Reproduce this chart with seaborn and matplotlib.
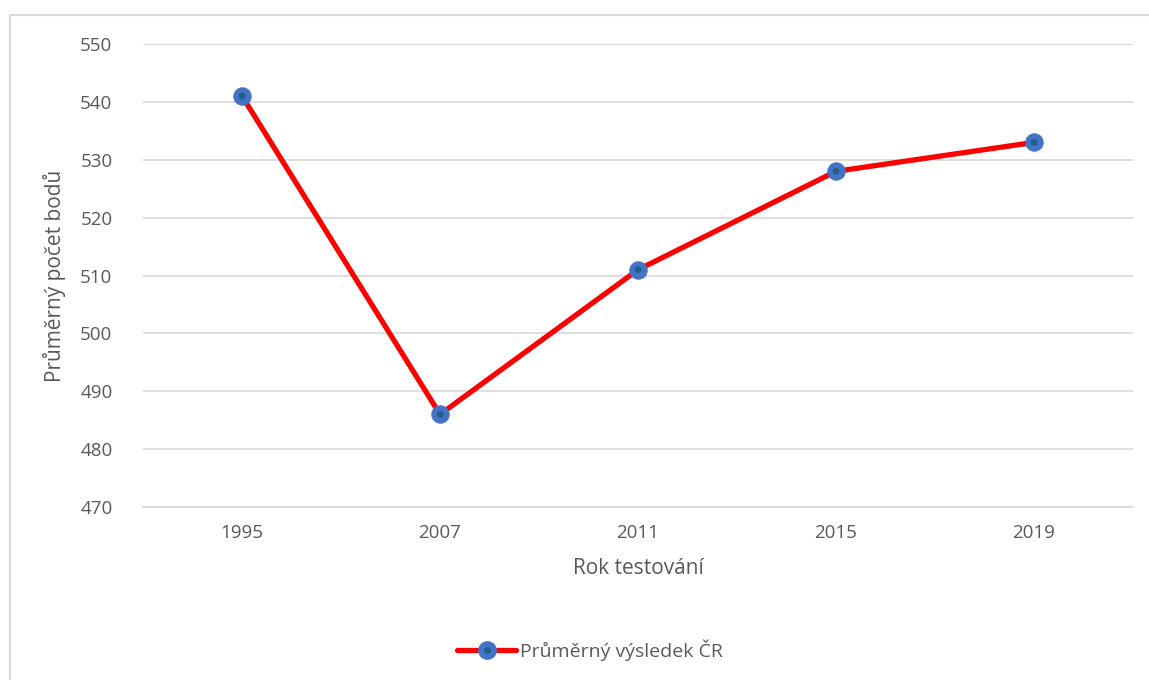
import matplotlib
matplotlib.use("Agg")
import matplotlib.pyplot as plt
from matplotlib.lines import Line2D
import pandas as pd
import seaborn as sns

years = ["1995", "2007", "2011", "2015", "2019"]
scores = [541, 486, 511, 528, 533]
series_name = "Průměrný výsledek ČR"
y_ticks = [470, 480, 490, 500, 510, 520, 530, 540, 550]

df = pd.DataFrame({"rok": years, "body": scores})

sns.set_style("white")
plt.rcParams["font.family"] = ["Open Sans", "DejaVu Sans"]
text_col = "#595959"

fig = plt.figure(figsize=(11.49, 6.8), dpi=100)
ax = fig.add_axes([0.1245, 0.2544, 0.8616, 0.6809])

# outer chart border: only top and left edges are visible in the original
bx, by = 10 / 1149, 1 - 15 / 680
fig.add_artist(Line2D([bx, 1.0], [by, by], transform=fig.transFigure,
                      color="#d9d9d9", linewidth=1.5))
fig.add_artist(Line2D([bx, bx], [0.0, by], transform=fig.transFigure,
                      color="#d9d9d9", linewidth=1.5))

sns.lineplot(data=df, x="rok", y="body", ax=ax, color="#ff0000", linewidth=3.8,
             marker="o", markersize=12.5, markerfacecolor="#4472c4",
             markeredgecolor="#4472c4", zorder=3)
sns.scatterplot(data=df, x="rok", y="body", ax=ax, color="#1f5f8b", s=24,
                edgecolor="none", zorder=4)

ax.set_xlim(-0.5, len(years) - 0.5)
ax.set_ylim(470, 550)
ax.set_yticks(y_ticks)
ax.yaxis.grid(True, color="#d9d9d9", linewidth=1.2)
ax.set_axisbelow(True)
for s in ["top", "right", "left"]:
    ax.spines[s].set_visible(False)
ax.spines["bottom"].set_color("#d9d9d9")
ax.spines["bottom"].set_linewidth(1.2)
ax.tick_params(axis="both", length=0, labelsize=13.5, colors=text_col, pad=12)
ax.tick_params(axis="y", pad=22)

ax.set_xlabel("Rok testování", fontsize=15, color=text_col, labelpad=12)
ax.set_ylabel("Průměrný počet bodů", fontsize=15, color=text_col, labelpad=10)

h_line = Line2D([], [], color="#ff0000", linewidth=3.8, marker="o", markersize=12.5,
                markerfacecolor="#4472c4", markeredgecolor="#4472c4")
h_dot = Line2D([], [], linestyle="none", marker="o", markersize=5,
               markerfacecolor="#1f5f8b", markeredgecolor="none")
leg = fig.legend([(h_line, h_dot)], [series_name], loc="center",
                 bbox_to_anchor=(590 / 1149, 1 - 650 / 680), frameon=False,
                 fontsize=14, handlelength=3, handletextpad=0.2)
for t in leg.get_texts():
    t.set_color(text_col)

fig.savefig("out.png", dpi=100)
